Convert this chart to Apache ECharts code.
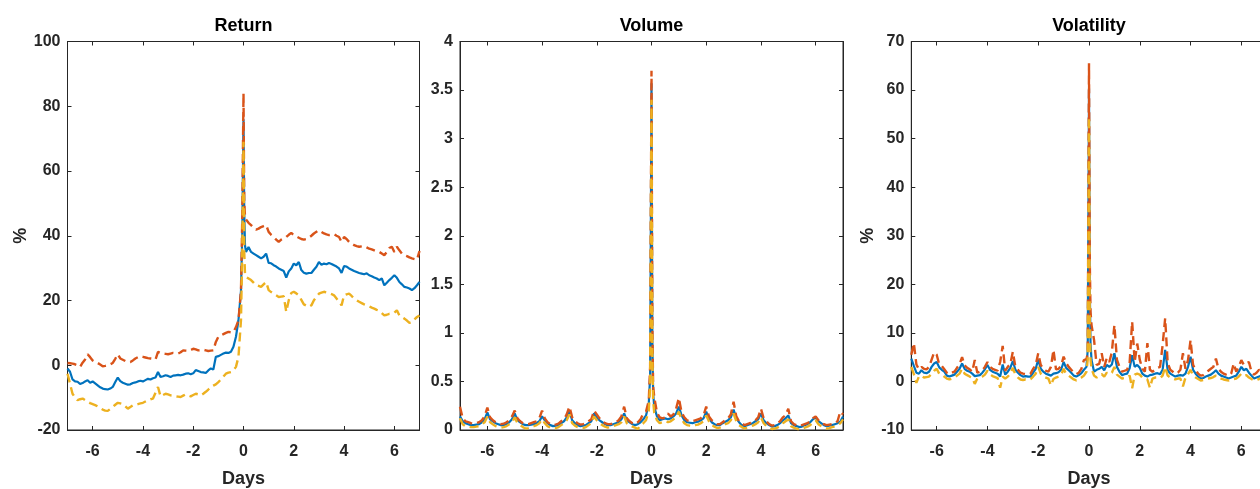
<!DOCTYPE html>
<html>
<head>
<meta charset="utf-8">
<script src="https://cdn.jsdelivr.net/npm/echarts@6/dist/echarts.min.js"></script>
<style>html,body{margin:0;padding:0;background:#fff;}#c{width:1260px;height:489px;}</style>
</head>
<body>
<div id="c"></div>
<script>
// time grid in days (shared by all panels)
const days = [
-7.0,-6.9,-6.8,-6.7,-6.6,-6.5,-6.4,-6.3,-6.2,-6.1,
-6.0,-5.9,-5.8,-5.7,-5.6,-5.5,-5.4,-5.3,-5.2,-5.1,
-5.0,-4.9,-4.8,-4.7,-4.6,-4.5,-4.4,-4.3,-4.2,-4.1,
-4.0,-3.9,-3.8,-3.7,-3.6,-3.5,-3.4,-3.3,-3.2,-3.1,
-3.0,-2.9,-2.8,-2.7,-2.6,-2.5,-2.4,-2.3,-2.2,-2.1,
-2.0,-1.9,-1.8,-1.7,-1.6,-1.5,-1.4,-1.3,-1.2,-1.1,
-1.0,-0.9,-0.8,-0.7,-0.6,-0.5,-0.4,-0.3,-0.2,-0.1,
-0.05,0,0.03,0.06,
0.1,0.2,0.3,0.4,0.5,0.6,0.7,0.8,0.9,1.0,
1.1,1.2,1.3,1.4,1.5,1.6,1.7,1.8,1.9,2.0,
2.1,2.2,2.3,2.4,2.5,2.6,2.7,2.8,2.9,3.0,
3.1,3.2,3.3,3.4,3.5,3.6,3.7,3.8,3.9,4.0,
4.1,4.2,4.3,4.4,4.5,4.6,4.7,4.8,4.9,5.0,
5.1,5.2,5.3,5.4,5.5,5.6,5.7,5.8,5.9,6.0,
6.1,6.2,6.3,6.4,6.5,6.6,6.7,6.8,6.9,7.0];

const xTicks = [-6,-4,-2,0,2,4,6];
const titles = ['Return','Volume','Volatility'];

// Return (%)
const returnBlue = [
-1.0,-2.0,-4.4,-5.0,-5.1,-5.8,-5.5,-5.0,-4.6,-5.4,
-5.0,-5.6,-6.2,-6.8,-7.2,-7.4,-7.5,-7.2,-6.7,-5.2,
-3.8,-4.9,-5.4,-5.7,-6.0,-5.9,-5.5,-5.3,-5.0,-4.8,
-5.0,-4.6,-4.2,-4.4,-4.0,-3.8,-2.1,-3.6,-3.4,-3.1,
-3.3,-3.6,-3.2,-3.1,-3.0,-3.1,-2.9,-2.6,-2.5,-2.8,
-2.5,-1.5,-1.8,-2.1,-2.2,-2.4,-1.6,-1.0,-1.3,2.6,
2.8,3.2,3.6,3.9,3.8,4.2,5.7,8.8,13.9,23.0,
40,76,47,37,
35,36.5,35,34.5,34,33.5,33,33.5,34.5,31.6,
31.5,30.9,30.5,29.9,29.5,29.1,27.1,29.0,29.9,31.4,
30.9,31.9,29.4,28.6,28.3,28.5,28.5,29.5,30.4,31.9,
31.0,31.4,31.2,31.6,31.3,30.9,30.5,29.9,28.5,30.6,
30.5,29.9,29.5,29.1,28.8,28.5,28.3,28.1,28.4,27.8,
27.5,27.1,26.8,26.3,26.8,24.7,25.5,26.3,27.0,27.8,
27.0,25.7,25.0,24.2,24.0,23.7,23.2,23.8,24.7,25.7];
const returnOrange = [
0.7,0.6,0.5,0.3,0.0,-0.5,0.8,1.8,3.4,2.5,
1.5,1.0,0.7,0.2,-0.3,-0.2,0.0,0.3,0.7,2.0,
3.4,2.1,1.7,1.3,1.1,1.0,1.5,2.1,2.5,2.8,
2.6,2.4,2.2,2.1,2.0,1.8,4.1,3.8,3.6,3.5,
3.4,3.6,3.8,3.7,3.6,4.0,4.6,4.5,4.4,4.7,
5.1,4.9,4.6,4.7,4.8,4.6,4.4,4.5,4.6,7.2,
8.8,9.2,9.6,10.0,10.3,10.2,10.3,11.8,13.9,23.0,
45,84,50,46,
45,44,43.3,42.5,41.9,42.2,42.7,43.0,43.3,41.2,
40.3,39.6,38.8,38.1,38.8,39.2,39.6,40.3,40.9,40.2,
39.8,39.4,39.0,38.8,39.0,39.4,40.0,40.7,41.2,41.7,
41.2,40.7,40.4,40.2,40.3,40.5,40.0,39.6,38.1,39.6,
39.0,38.1,37.6,37.1,36.8,36.6,36.7,36.8,36.4,36.0,
35.8,35.5,35.2,35.0,34.5,34.0,35.0,36.2,36.6,35.0,
36.6,35.5,34.5,34.0,33.7,33.3,33.0,32.8,32.6,35.3];
const returnYellow = [
-2.6,-5.7,-8.8,-10.0,-10.8,-10.5,-10.3,-10.8,-11.3,-11.7,
-12.0,-12.3,-12.7,-13.2,-13.7,-14.0,-14.1,-13.5,-12.9,-12.2,
-11.6,-11.8,-12.0,-12.7,-13.4,-12.9,-12.4,-12.2,-12.0,-11.8,
-11.6,-11.2,-10.8,-10.5,-10.3,-8.5,-6.7,-9.6,-9.2,-8.8,
-9.0,-9.3,-9.4,-9.6,-9.7,-9.8,-9.4,-9.0,-9.3,-9.6,
-9.2,-8.8,-9.0,-9.3,-8.8,-8.2,-7.5,-6.7,-6.3,-5.9,
-5.2,-4.4,-3.5,-2.6,-2.3,-2.1,-1.5,-0.5,2.6,13.9,
35,69,35,28,
27.3,26.8,26.3,25.5,24.7,24.5,24.2,25.0,25.7,23.2,
22.6,22.1,21.6,21.1,21.2,21.3,16.5,20.1,22.3,22.7,
22.2,21.6,20.2,18.8,18.4,18.0,18.5,20.1,21.1,22.1,
22.4,22.7,22.5,22.3,22.0,21.6,20.6,19.6,18.5,21.6,
21.9,22.1,21.4,20.6,20.1,19.6,19.2,18.8,18.5,18.2,
17.8,17.5,17.1,16.8,16.1,15.4,15.6,15.9,16.0,16.2,
17.0,15.4,14.9,14.4,13.8,13.1,13.4,14.2,14.9,15.4];

// Volume
const volumeBlue = [
0.14,0.09,0.07,0.06,0.05,0.05,0.055,0.06,0.08,0.11,
0.18,0.11,0.09,0.07,0.06,0.05,0.05,0.06,0.08,0.11,
0.17,0.10,0.08,0.06,0.05,0.05,0.055,0.06,0.07,0.09,
0.14,0.10,0.07,0.05,0.04,0.045,0.05,0.07,0.09,0.13,
0.19,0.10,0.07,0.05,0.04,0.045,0.05,0.07,0.09,0.17,
0.13,0.10,0.08,0.06,0.05,0.05,0.06,0.07,0.08,0.11,
0.17,0.10,0.08,0.06,0.05,0.06,0.08,0.11,0.15,0.27,
0.55,3.57,0.95,0.38,
0.24,0.14,0.10,0.11,0.12,0.11,0.12,0.14,0.17,0.24,
0.15,0.10,0.08,0.075,0.07,0.08,0.085,0.10,0.12,0.19,
0.12,0.08,0.06,0.05,0.05,0.07,0.085,0.10,0.13,0.21,
0.12,0.08,0.05,0.04,0.05,0.06,0.07,0.09,0.11,0.17,
0.10,0.07,0.05,0.035,0.04,0.05,0.07,0.10,0.12,0.15,
0.07,0.05,0.04,0.03,0.035,0.05,0.06,0.08,0.11,0.13,
0.09,0.07,0.05,0.04,0.045,0.05,0.06,0.07,0.085,0.14];
const volumeOrange = [
0.24,0.12,0.09,0.08,0.07,0.065,0.07,0.08,0.10,0.14,
0.23,0.13,0.10,0.08,0.07,0.06,0.065,0.08,0.10,0.14,
0.20,0.12,0.09,0.07,0.06,0.06,0.07,0.08,0.09,0.12,
0.20,0.12,0.08,0.06,0.055,0.055,0.065,0.09,0.11,0.16,
0.24,0.13,0.09,0.07,0.055,0.06,0.07,0.09,0.11,0.20,
0.16,0.12,0.09,0.07,0.06,0.06,0.07,0.08,0.10,0.14,
0.24,0.12,0.09,0.07,0.06,0.08,0.11,0.17,0.19,0.30,
0.65,3.70,1.10,0.45,
0.34,0.18,0.13,0.12,0.13,0.17,0.14,0.16,0.22,0.33,
0.18,0.13,0.10,0.09,0.09,0.10,0.11,0.12,0.15,0.24,
0.14,0.10,0.08,0.06,0.06,0.08,0.10,0.12,0.16,0.29,
0.14,0.09,0.07,0.05,0.06,0.07,0.09,0.10,0.13,0.22,
0.12,0.09,0.06,0.045,0.05,0.07,0.09,0.13,0.15,0.22,
0.09,0.06,0.05,0.04,0.05,0.06,0.07,0.09,0.12,0.14,
0.10,0.08,0.06,0.05,0.055,0.06,0.07,0.09,0.19,0.16];
const volumeYellow = [
0.12,0.06,0.04,0.035,0.03,0.03,0.035,0.04,0.06,0.08,
0.14,0.08,0.06,0.04,0.03,0.025,0.03,0.04,0.06,0.08,
0.13,0.07,0.05,0.03,0.015,0.02,0.03,0.04,0.05,0.07,
0.11,0.07,0.04,0.025,0.015,0.02,0.03,0.05,0.07,0.10,
0.16,0.07,0.045,0.03,0.02,0.02,0.03,0.05,0.07,0.14,
0.10,0.07,0.05,0.035,0.025,0.03,0.04,0.05,0.06,0.08,
0.14,0.07,0.05,0.035,0.025,0.01,0.05,0.07,0.10,0.20,
0.45,3.40,0.80,0.30,
0.18,0.10,0.07,0.08,0.09,0.08,0.09,0.11,0.13,0.19,
0.11,0.07,0.05,0.045,0.04,0.05,0.055,0.07,0.09,0.15,
0.09,0.05,0.035,0.02,0.025,0.04,0.06,0.07,0.10,0.17,
0.09,0.05,0.03,0.015,0.025,0.035,0.045,0.06,0.08,0.13,
0.07,0.04,0.025,0.01,0.015,0.025,0.04,0.07,0.09,0.11,
0.04,0.025,0.015,0.005,0.01,0.025,0.035,0.05,0.08,0.10,
0.06,0.04,0.025,0.015,0.02,0.03,0.035,0.05,0.07,0.11];

// Volatility (%)
const volatilityBlue = [
4.7,3.2,1.8,1.6,2.3,1.8,1.7,2.0,3.0,3.7,
4.0,2.9,2.4,2.0,1.2,1.0,1.2,1.4,2.0,2.6,
3.7,2.6,2.2,2.0,1.6,1.1,1.2,1.3,1.8,2.5,
3.4,2.4,2.0,1.8,1.6,1.0,3.5,1.4,2.0,2.8,
4.2,2.4,1.8,1.3,1.0,1.1,1.0,1.0,1.8,2.6,
4.5,2.6,2.0,1.6,1.4,1.2,1.6,1.7,1.9,2.4,
4.0,2.8,2.3,1.8,1.2,1.0,1.3,1.7,2.4,3.0,
6.5,60.3,20,7.8,
4.4,2.0,2.4,2.6,3.0,2.3,3.4,3.0,3.5,5.8,
3.0,2.0,1.3,1.5,1.6,2.7,5.4,3.0,3.4,2.8,
1.6,1.2,1.0,1.3,1.4,1.6,1.7,1.5,2.4,6.5,
2.3,1.6,1.3,1.0,1.2,1.3,1.2,1.6,3.0,5.1,
2.4,1.6,1.0,0.6,0.7,1.0,1.2,1.4,1.8,2.3,
1.6,1.2,1.0,0.8,0.6,0.8,1.0,1.2,2.0,3.0,
2.3,2.6,1.8,1.2,0.6,0.8,1.0,1.2,1.5,1.8];
const volatilityOrange = [
5.5,7.9,3.5,2.5,3.0,2.6,2.5,3.0,4.5,6.0,
5.5,3.5,3.2,2.5,1.8,1.5,1.8,2.0,2.8,3.5,
5.0,3.3,2.8,2.5,2.0,4.4,1.8,2.0,2.3,3.0,
4.0,3.0,2.6,2.4,2.2,4.0,7.3,2.2,3.0,3.6,
6.1,3.0,2.4,1.8,1.6,1.5,1.4,1.6,2.6,3.4,
5.8,3.4,2.6,2.2,2.0,3.0,6.5,2.5,2.6,3.2,
5.1,3.8,3.0,2.4,1.8,1.5,1.8,2.6,4.4,4.6,
5.8,65.5,25,14.4,
11.6,8.5,3.4,3.6,5.8,3.0,4.8,4.0,6.0,11.6,
4.5,3.0,2.0,2.2,2.4,3.8,12.3,4.0,7.8,4.5,
2.6,2.0,7.9,2.4,2.0,2.4,2.8,3.0,7.5,13.0,
3.8,2.4,2.0,1.6,1.8,2.4,5.8,2.6,4.4,8.5,
3.4,2.4,1.6,1.2,1.3,1.8,2.2,2.6,3.0,4.7,
2.6,2.0,1.6,1.4,1.2,1.6,3.7,2.0,3.0,4.4,
3.4,3.8,4.0,2.0,1.4,1.8,2.4,2.0,2.2,2.5];
const volatilityYellow = [
3.0,1.5,-0.3,1.0,1.2,0.8,0.9,1.0,1.6,2.2,
2.6,1.6,1.4,1.0,0.6,0.4,0.6,0.8,1.2,1.6,
2.6,1.6,1.3,1.0,0.8,-0.5,0.6,0.7,1.0,1.4,
2.2,1.5,1.1,0.9,0.7,-1.3,1.0,0.6,1.0,1.6,
2.8,1.4,0.8,0.4,0.3,0.4,0.3,0.5,1.0,1.6,
3.0,1.6,1.0,0.8,0.6,-0.8,0.5,0.8,1.0,1.3,
2.6,1.5,1.2,0.8,0.4,0.2,0.5,0.8,1.2,2.0,
4.5,54.5,12,4.5,
2.6,1.2,0.8,1.2,1.5,1.0,1.8,1.5,1.8,3.0,
1.4,1.0,0.6,0.7,0.8,1.2,-1.4,1.4,1.6,1.4,
0.8,0.6,0.4,-1.3,0.6,0.8,0.8,0.7,1.2,3.0,
1.2,0.8,0.6,0.4,0.6,0.6,-1.0,0.8,1.5,2.4,
1.2,0.8,0.5,0.2,0.3,0.5,0.6,0.7,0.9,1.2,
0.8,0.6,0.4,0.3,0.2,0.4,0.5,0.6,1.0,1.6,
1.2,1.3,0.8,0.5,0.2,0.3,0.5,0.6,0.7,0.9];

const FONT = 'Liberation Sans';
const INK = '#262626';
const COLORS = ['#0072BD', '#D95319', '#EDB120'];

const panels = [
  {left: 67.5, width: 352, yMin: -20, yMax: 100, yInt: 20, yName: '%', yNameGap: 37,
   series: [returnBlue, returnOrange, returnYellow]},
  {left: 460, width: 383, yMin: 0, yMax: 4, yInt: 0.5, yName: '', yNameGap: 30,
   series: [volumeBlue, volumeOrange, volumeYellow]},
  {left: 911.3, width: 355.4, yMin: -10, yMax: 70, yInt: 10, yName: '%', yNameGap: 32,
   series: [volatilityBlue, volatilityOrange, volatilityYellow]}
];
const TOP = 41.5, HEIGHT = 388.5;

const labelStyle = {fontFamily: FONT, fontWeight: 'bold', fontSize: 16, color: INK};
const nameStyle = {fontFamily: FONT, fontWeight: 'bold', fontSize: 18, color: INK};

const grid = [], xAxis = [], yAxis = [], series = [], graphic = [];
panels.forEach((p, g) => {
  grid.push({left: p.left, top: TOP, width: p.width, height: HEIGHT, show: true,
    borderColor: INK, borderWidth: 1, backgroundColor: '#fff', containLabel: false,
    outerBoundsMode: 'none'});
  const axLine = {show: true, onZero: false, lineStyle: {color: INK, width: 1}};
  xAxis.push({type: 'value', gridIndex: g, min: -7, max: 7, position: 'bottom',
    name: 'Days', nameLocation: 'middle', nameGap: 40, nameTextStyle: nameStyle,
    axisLine: axLine,
    axisTick: {show: true, inside: true, length: 4, customValues: xTicks, lineStyle: {color: INK}},
    axisLabel: Object.assign({show: true, customValues: xTicks, margin: 14}, labelStyle),
    splitLine: {show: false}});
  xAxis.push({type: 'value', gridIndex: g, min: -7, max: 7, position: 'top',
    axisLine: axLine,
    axisTick: {show: true, inside: true, length: 4, customValues: xTicks, lineStyle: {color: INK}},
    axisLabel: {show: false}, splitLine: {show: false}});
  yAxis.push({type: 'value', gridIndex: g, min: p.yMin, max: p.yMax, interval: p.yInt, position: 'left',
    name: p.yName, nameLocation: 'middle', nameGap: p.yNameGap, nameRotate: 90, nameTextStyle: nameStyle,
    axisLine: axLine,
    axisTick: {show: true, inside: true, length: 4, lineStyle: {color: INK}},
    axisLabel: Object.assign({show: true, margin: 7}, labelStyle),
    splitLine: {show: false}});
  yAxis.push({type: 'value', gridIndex: g, min: p.yMin, max: p.yMax, interval: p.yInt, position: 'right',
    axisLine: axLine,
    axisTick: {show: true, inside: true, length: 4, lineStyle: {color: INK}},
    axisLabel: {show: false}, splitLine: {show: false}});
  p.series.forEach((vals, k) => {
    series.push({type: 'line', xAxisIndex: 2 * g, yAxisIndex: 2 * g, showSymbol: false, symbol: 'none',
      animation: false, clip: true,
      data: days.map((d, i) => [d, vals[i]]),
      lineStyle: {color: COLORS[k], width: k === 0 ? 2.2 : 2.4, type: k === 0 ? 'solid' : [9, 5]},
      z: 2 + k});
  });
  graphic.push({type: 'text', x: p.left + p.width / 2, y: 26,
    style: {text: titles[g], align: 'center', verticalAlign: 'middle',
      fontFamily: FONT, fontWeight: 'bold', fontSize: 18, fill: '#000'}});
});

const chart = echarts.init(document.getElementById('c'), null, {renderer: 'canvas'});
chart.setOption({animation: false, backgroundColor: '#fff', grid, xAxis, yAxis, series, graphic});
</script>
</body>
</html>
